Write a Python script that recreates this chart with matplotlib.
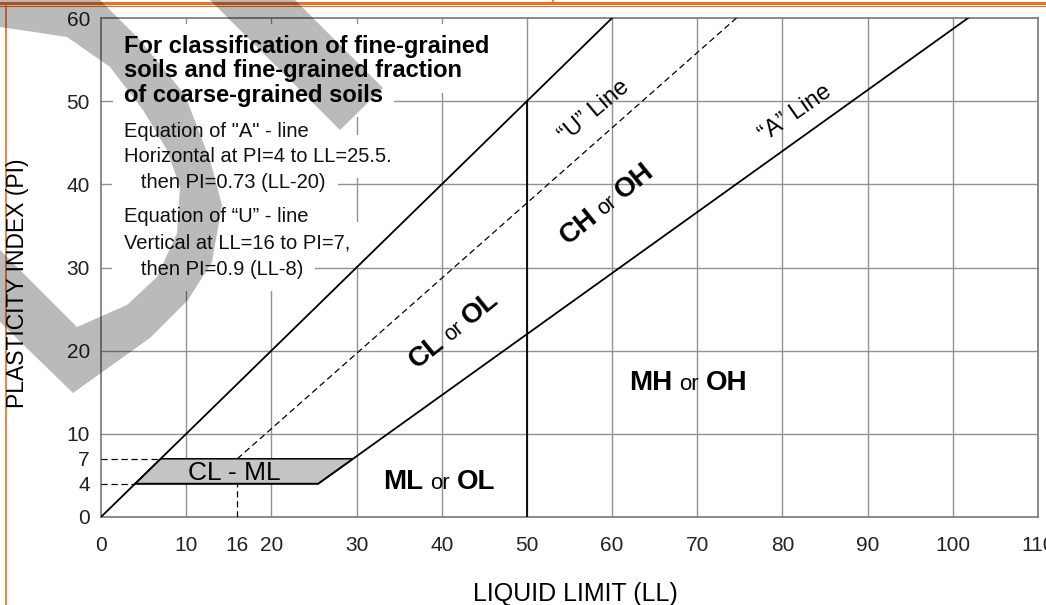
import matplotlib
matplotlib.use('Agg')
import matplotlib.pyplot as plt
import numpy as np
from matplotlib.patches import Polygon
from matplotlib.lines import Line2D
from matplotlib.transforms import offset_copy

plt.rcParams['font.family'] = ['Liberation Sans', 'DejaVu Sans']

# ticks
ll_ticks = [0, 10, 16, 20, 30, 40, 50, 60, 70, 80, 90, 100, 110]
pi_ticks = [0, 4, 7, 10, 20, 30, 40, 50, 60]
grid_ll = [10, 20, 30, 40, 50, 60, 70, 80, 90, 100]
grid_pi = [10, 20, 30, 40, 50]

# chart lines
upper_ll = [0, 60]
upper_pi = [0, 60]
a_line_ll = [4, 25.5, 101.8]
a_line_pi = [4, 4, 60]
u_line_ll = [16, 74.6]
u_line_pi = [7, 60]
ll50_ll = [50, 50]
ll50_pi = [0, 50]
clml_ll = [4, 25.5, 29.6, 7]
clml_pi = [4, 4, 7, 7]

title_lines = ['For classification of fine-grained',
               'soils and fine-grained fraction',
               'of coarse-grained soils']
eq_lines = ['Equation of "A" - line',
            'Horizontal at PI=4 to LL=25.5.',
            '   then PI=0.73 (LL-20)',
            'Equation of \u201cU\u201d - line',
            'Vertical at LL=16 to PI=7,',
            '   then PI=0.9 (LL-8)']

W, H = 1046, 605
fig = plt.figure(figsize=(W / 100, H / 100), dpi=100)
ax = fig.add_axes([101 / W, 1 - 517 / H, (1038 - 101) / W, (517 - 18) / H])
ax.set_xlim(0, 110)
ax.set_ylim(0, 60)

for s in ax.spines.values():
    s.set_color('#777777')
    s.set_linewidth(1.2)

ax.set_xticks(ll_ticks)
ax.set_yticks(pi_ticks)
ax.tick_params(length=0, labelsize=15, colors='#222222')
ax.tick_params(axis='x', pad=14)
ax.tick_params(axis='y', pad=8)

for v in grid_ll:
    ax.axvline(v, color='#919191', lw=1, zorder=1)
for h in grid_pi:
    ax.axhline(h, color='#919191', lw=1, zorder=1)

# text block: white boxes first, then the text over them
y0 = 56.6
for i, t in enumerate(title_lines):
    for col, z, bb in (('white', 2, dict(facecolor='white', edgecolor='none', boxstyle='square,pad=0.45')),
                       ('black', 2.5, None)):
        ax.text(2.7, y0 - i * 2.95, t, fontsize=17, fontweight='bold', va='center', ha='left',
                color=col, bbox=bb, zorder=z)
eq_y = [46.4, 43.3, 40.2, 36.1, 32.9, 29.8]
for t, y in zip(eq_lines, eq_y):
    for col, z, bb in (('white', 2, dict(facecolor='white', edgecolor='none', boxstyle='square,pad=0.6')),
                       ('#111111', 2.5, None)):
        ax.text(2.7, y, t, fontsize=14.5, va='center', ha='left', color=col, bbox=bb, zorder=z)

# guide dashes
dash = dict(color='black', lw=0.9, ls=(0, (5, 3)), zorder=3)
ax.plot([0, 7], [7, 7], **dash)
ax.plot([0, 4], [4, 4], **dash)
ax.plot([16, 16], [0, 4], **dash)
ax.plot(u_line_ll, u_line_pi, **dash)

ax.add_patch(Polygon(np.column_stack([clml_ll, clml_pi]), closed=True,
                     facecolor='#c4c4c4', edgecolor='black', lw=1.1, zorder=4))

ax.plot(upper_ll, upper_pi, color='black', lw=1.3, zorder=5)
ax.plot(a_line_ll, a_line_pi, color='black', lw=1.3, zorder=5)
ax.plot(ll50_ll, ll50_pi, color='black', lw=1.3, zorder=5)


def multi_label(x, y, parts, angle=0, gap=6):
    r = fig.canvas.get_renderer()
    widths = []
    for s, size, weight in parts:
        t = ax.text(0, 0, s, fontsize=size, fontweight=weight)
        widths.append(t.get_window_extent(r).width)
        t.remove()
    total = sum(widths) + gap * (len(parts) - 1)
    pos = -total / 2
    a = np.radians(angle)
    for (s, size, weight), w in zip(parts, widths):
        c = pos + w / 2
        tr = offset_copy(ax.transData, fig=fig, x=c * np.cos(a), y=c * np.sin(a), units='dots')
        ax.text(x, y, s, transform=tr, fontsize=size, fontweight=weight, rotation=angle,
                rotation_mode='anchor', ha='center', va='baseline', zorder=6)
        pos += w + gap


multi_label(41.9, 21.8, [('CL', 20, 'bold'), ('or', 15.5, 'normal'), ('OL', 20, 'bold')], angle=39)
multi_label(59.9, 37.0, [('CH', 20, 'bold'), ('or', 15.5, 'normal'), ('OH', 20, 'bold')], angle=39)
multi_label(68.9, 15.3, [('MH', 20, 'bold'), ('or', 16, 'normal'), ('OH', 20, 'bold')], gap=7)
multi_label(39.7, 3.4, [('ML', 20, 'bold'), ('or', 16, 'normal'), ('OL', 20, 'bold')], gap=7)
ax.text(15.7, 4.45, 'CL - ML', fontsize=19, ha='center', va='baseline', zorder=6)
ax.text(57.9, 48.8, '\u201cU\u201d Line', fontsize=17, rotation=40, rotation_mode='anchor',
        ha='center', va='center', zorder=6)
ax.text(81.5, 48.5, '\u201cA\u201d Line', fontsize=17, rotation=35, rotation_mode='anchor',
        ha='center', va='center', zorder=6)

fig.text(18 / W, 1 - 283 / H, 'PLASTICITY INDEX (PI)', fontsize=16.5, rotation=90,
         ha='center', va='center')
fig.text(575 / W, 1 - 594 / H, 'LIQUID LIMIT (LL)', fontsize=18, ha='center', va='center')

# scan watermark
def px(pts):
    return [(x / W, 1 - y / H) for x, y in pts]

arc = [(0, -5), (95, -5), (140, 40), (185, 95), (210, 160), (222, 205), (212, 262),
       (188, 300), (150, 338), (73, 393), (0, 322), (0, 250), (77, 327), (127, 305),
       (157, 277), (177, 233), (180, 187), (167, 150), (143, 110), (110, 67), (67, 37), (0, 27)]
band = [(205, -5), (290, -5), (383, 88), (340, 130)]
for shape in (arc, band):
    fig.patches.append(Polygon(px(shape), closed=True, transform=fig.transFigure,
                               facecolor='black', alpha=0.27, edgecolor='none', zorder=10))

# orange frame of the page
orange = '#f07020'
fig.add_artist(Line2D([0, 1], [1 - 2.5 / H, 1 - 2.5 / H], color=orange, lw=2.2, transform=fig.transFigure))
fig.add_artist(Line2D([0, 1], [1 - 6 / H, 1 - 6 / H], color=orange, lw=0.8, transform=fig.transFigure))
fig.add_artist(Line2D([5.5 / W, 5.5 / W], [0, 1 - 6 / H], color=orange, lw=1.2, transform=fig.transFigure))
fig.add_artist(Line2D([553 / W, 553 / W], [1 - 4 / H, 1], color=orange, lw=1.2, transform=fig.transFigure))

fig.savefig('out.png', dpi=100, facecolor='white')
